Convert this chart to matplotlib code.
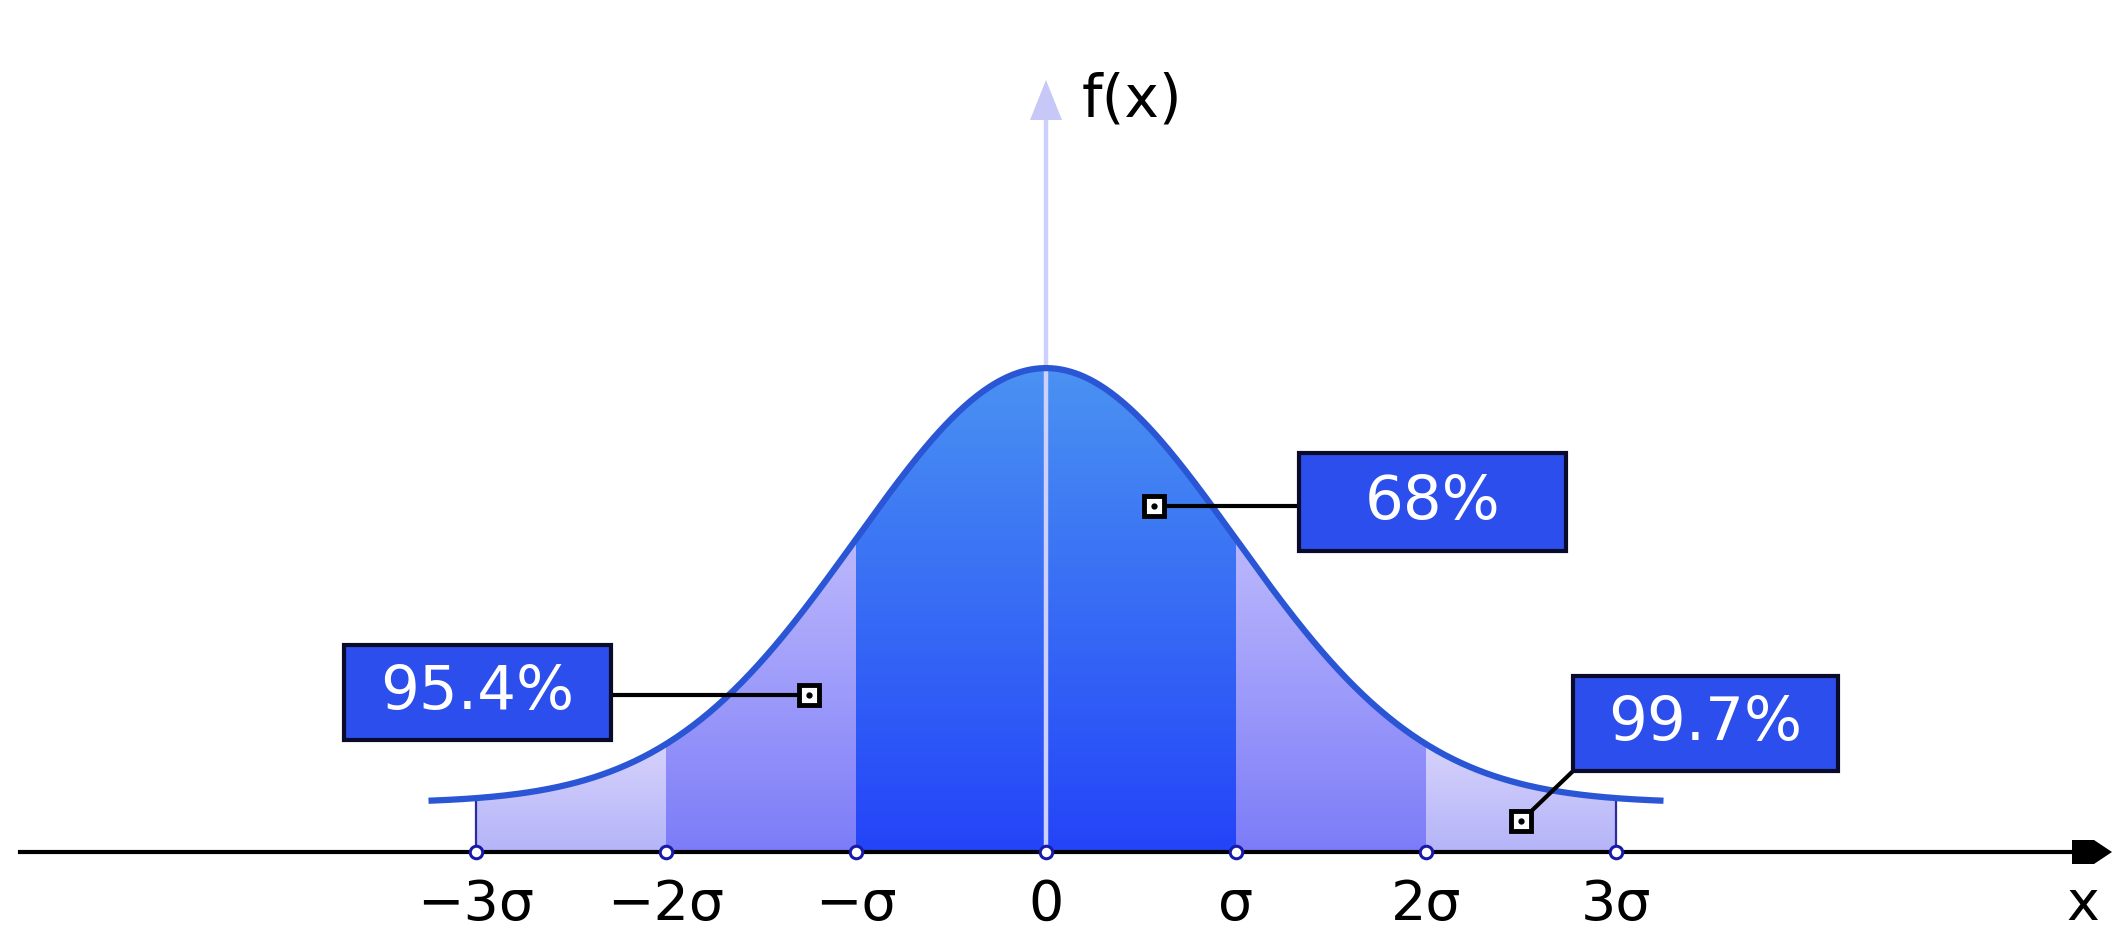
import numpy as np
import matplotlib
matplotlib.use("Agg")
import matplotlib.pyplot as plt
from matplotlib.colors import LinearSegmentedColormap
from matplotlib.patches import Rectangle, Polygon

# ---- data ----
tick_values = [-3, -2, -1, 0, 1, 2, 3]
tick_labels = ["\u22123\u03c3", "\u22122\u03c3", "\u2212\u03c3", "0", "\u03c3", "2\u03c3", "3\u03c3"]
band_edges = [1, 2, 3]                      # |x| limits of the shaded bands (in sigma)
band_labels = ["68%", "95.4%", "99.7%"]
mu = 0.0
sigma = 1.0
curve_offset = 0.045                        # curve sits slightly above the axis
curve_span = 3.25                           # curve drawn from -3.25σ to 3.25σ

# ---- figure ----
W, H = 2121, 930
fig = plt.figure(figsize=(W / 100, H / 100), dpi=100)
ax = fig.add_axes([0, 0, 1, 1])
ax.axis("off")
px_x = 190.0
x0_pix = 1046.0
px_y = 1090.0
y0_pix = 852.0
XL = (-x0_pix / px_x, (W - x0_pix) / px_x)
YL = (-(H - y0_pix) / px_y, y0_pix / px_y)


def f(x):
    return curve_offset + np.exp(-0.5 * ((x - mu) / sigma) ** 2) / (sigma * np.sqrt(2 * np.pi))


ytop = f(0)

band_cmaps = [
    LinearSegmentedColormap.from_list("c0", ["#2444f8", "#4a92f2"]),
    LinearSegmentedColormap.from_list("c1", ["#7c7cf8", "#bcb8fc"]),
    LinearSegmentedColormap.from_list("c2", ["#b4b4f8", "#d6d2fc"]),
]

grad = np.linspace(0, 1, 256).reshape(-1, 1)
prev = 0
for i, e in enumerate(band_edges):
    for sgn in (-1, 1):
        a, b = sorted((sgn * prev, sgn * e))
        xs = np.linspace(a, b, 200)
        ys = f(xs)
        verts = np.vstack([[a, 0], np.column_stack([xs, ys]), [b, 0]])
        poly = Polygon(verts, closed=True, facecolor="none", edgecolor="none")
        ax.add_patch(poly)
        top = ys.max()
        im = ax.imshow(grad, extent=[a, b, 0, top], origin="lower", aspect="auto",
                       cmap=band_cmaps[i], zorder=1, interpolation="bilinear")
        im.set_clip_path(poly)
    prev = e

# thin lines at ±3σ
for s in (-band_edges[-1], band_edges[-1]):
    ax.plot([s, s], [0, f(s)], color="#2c2c9c", lw=1.6, zorder=2)

# vertical axis
ax.plot([0, 0], [0, (y0_pix - 118) / px_y], color="#cdd0fc", lw=3.2, zorder=2.5, solid_capstyle="butt")
ax.add_patch(Polygon([[-16 / px_x, (y0_pix - 120) / px_y], [16 / px_x, (y0_pix - 120) / px_y],
                      [0, (y0_pix - 80) / px_y]], closed=True, facecolor="#c8c8f8",
                     edgecolor="none", zorder=2.5))
ax.text(1082 / px_x - x0_pix / px_x, (y0_pix - 100) / px_y, "f(x)", fontsize=42,
        ha="left", va="center", color="black", family="DejaVu Sans")

# curve
xc = np.linspace(-curve_span, curve_span, 600)
ax.plot(xc, f(xc), color="#2a56d6", lw=4.5, zorder=3, solid_capstyle="butt")

# horizontal axis
ax.plot([(20 - x0_pix) / px_x, (2080 - x0_pix) / px_x], [0, 0], color="black", lw=3, zorder=4)
ax.add_patch(Polygon([[(2072 - x0_pix) / px_x, 12 / px_y], [(2094 - x0_pix) / px_x, 12 / px_y],
                      [(2112 - x0_pix) / px_x, 0], [(2094 - x0_pix) / px_x, -12 / px_y],
                      [(2072 - x0_pix) / px_x, -12 / px_y]], closed=True, facecolor="black",
                     edgecolor="none", zorder=4))
ax.text((2083 - x0_pix) / px_x, -(905 - y0_pix) / px_y, "x", fontsize=40, ha="center",
        va="center", color="black")

# tick markers and labels
ax.plot(tick_values, [0] * len(tick_values), ls="none", marker="o", ms=9, mfc="white",
        mec="#1a1aa8", mew=2.2, zorder=5)
for v, lab in zip(tick_values, tick_labels):
    ax.text(v, -(905 - y0_pix) / px_y, lab, fontsize=40, ha="center", va="center", color="black")

# annotations: (label, anchor x, anchor y, box x0, box x1, box y0, box y1, leader end)
ann = [
    (band_labels[0], 0.57, 0.317, 1.332, 2.737, 0.276, 0.366, "left"),
    (band_labels[1], -1.25, 0.144, -3.695, -2.289, 0.103, 0.190, "right"),
    (band_labels[2], 2.5, 0.0284, 2.774, 4.168, 0.0743, 0.1615, "corner"),
]
for lab, axx, ayy, bx0, bx1, by0, by1, mode in ann:
    if mode == "left":
        ex, ey = bx0, ayy
    elif mode == "right":
        ex, ey = bx1, ayy
    else:
        ex, ey = bx0, by0
    ax.plot([axx, ex], [ayy, ey], color="black", lw=3, zorder=6)
    ax.add_patch(Rectangle((bx0, by0), bx1 - bx0, by1 - by0, facecolor="#2b4eec",
                           edgecolor="#0a0a2a", lw=3, zorder=7))
    ax.text((bx0 + bx1) / 2, (by0 + by1) / 2, lab, fontsize=44, ha="center", va="center",
            color="white", zorder=8)
    ax.plot([axx], [ayy], marker="s", ms=14, mfc="white", mec="black", mew=3.5, zorder=8)
    ax.plot([axx], [ayy], marker="o", ms=3.5, mfc="black", mec="black", zorder=9)

ax.set_xlim(*XL)
ax.set_ylim(*YL)
fig.savefig("out.png", dpi=100, facecolor="white")
